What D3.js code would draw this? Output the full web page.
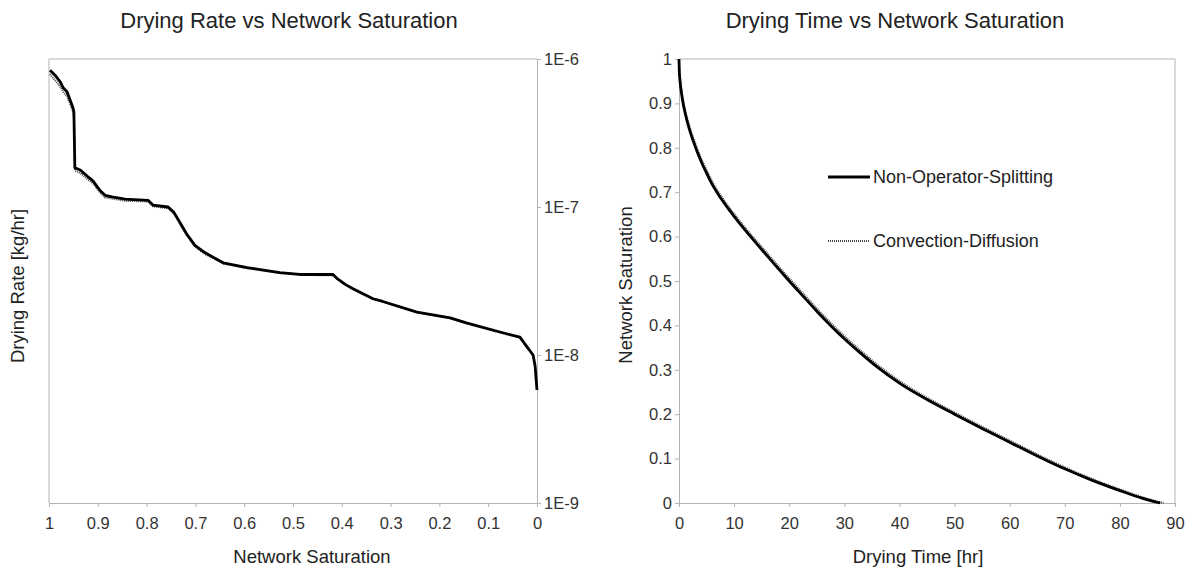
<!DOCTYPE html>
<html>
<head>
<meta charset="utf-8">
<script src="https://cdn.jsdelivr.net/npm/d3@7"></script>
<style>
  body { margin: 0; background: #fff; }
  svg text { font-family: "Liberation Sans", Arial, sans-serif; }
</style>
</head>
<body>
<div id="charts"></div>
<script>
// Drying rate / drying time vs network saturation, two panels
var width = 1190;
var height = 572;

// left panel: drying rate vs saturation (log y on the right side)
var rateSat = [0.998, 0.988, 0.977, 0.971, 0.963, 0.957, 0.951, 0.949, 0.947, 0.936, 0.922, 0.910, 0.896, 0.885, 0.871, 0.844, 0.797, 0.787, 0.756, 0.744, 0.732, 0.717, 0.701, 0.680, 0.643, 0.594, 0.527, 0.486, 0.418, 0.410, 0.393, 0.377, 0.336, 0.316, 0.246, 0.178, 0.143, 0.076, 0.035, 0.020, 0.008, 0.004, 0.0];
var rateNOS = [8.4e-7, 7.8e-7, 7.0e-7, 6.4e-7, 6.0e-7, 5.3e-7, 4.7e-7, 4.4e-7, 1.84e-7, 1.78e-7, 1.62e-7, 1.50e-7, 1.30e-7, 1.20e-7, 1.17e-7, 1.13e-7, 1.11e-7, 1.03e-7, 1.0e-7, 9.2e-8, 7.9e-8, 6.5e-8, 5.5e-8, 4.9e-8, 4.2e-8, 3.9e-8, 3.6e-8, 3.5e-8, 3.5e-8, 3.3e-8, 3.0e-8, 2.8e-8, 2.4e-8, 2.3e-8, 1.95e-8, 1.78e-8, 1.64e-8, 1.43e-8, 1.32e-8, 1.13e-8, 1.0e-8, 8.5e-9, 5.8e-9];
var rateCD = [7.9e-7, 7.2e-7, 6.5e-7, 6.0e-7, 5.6e-7, 5.0e-7, 4.4e-7, 4.1e-7, 1.76e-7, 1.70e-7, 1.55e-7, 1.45e-7, 1.26e-7, 1.16e-7, 1.14e-7, 1.10e-7, 1.09e-7, 1.01e-7, 9.8e-8, 9.0e-8, 7.7e-8, 6.4e-8, 5.4e-8, 4.8e-8, 4.15e-8, 3.85e-8, 3.58e-8, 3.48e-8, 3.45e-8, 3.28e-8, 2.98e-8, 2.78e-8, 2.39e-8, 2.29e-8, 1.94e-8, 1.77e-8, 1.63e-8, 1.42e-8, 1.31e-8, 1.12e-8, 9.9e-9, 8.4e-9, 5.8e-9];

// right panel: saturation vs drying time
var timeNOS = [0, 0.05, 0.15, 0.3, 0.5, 0.75, 1.1, 1.5, 2, 2.6, 3.3, 4.1, 5, 6, 7.5, 9, 11, 13, 15, 17.5, 20, 22.5, 25, 27.5, 30, 33, 36, 40, 45, 50, 55, 60, 65, 70, 75, 80, 84, 87.3];
var timeCD = [0, 0.07, 0.19, 0.36, 0.58, 0.85, 1.22, 1.65, 2.18, 2.8, 3.52, 4.35, 5.27, 6.3, 7.82, 9.33, 11.35, 13.37, 15.4, 17.92, 20.44, 22.96, 25.48, 28, 30.52, 33.54, 36.56, 40.58, 45.6, 50.6, 55.6, 60.6, 65.6, 70.6, 75.6, 80.6, 84.6, 87.9];
var satTime = [1, 0.974, 0.955, 0.937, 0.919, 0.9, 0.879, 0.859, 0.837, 0.815, 0.791, 0.767, 0.743, 0.718, 0.688, 0.662, 0.63, 0.6, 0.571, 0.535, 0.5, 0.466, 0.432, 0.4, 0.37, 0.337, 0.306, 0.27, 0.233, 0.2, 0.168, 0.137, 0.106, 0.077, 0.051, 0.028, 0.011, 0];

// tick values
var satTicks = [1, 0.9, 0.8, 0.7, 0.6, 0.5, 0.4, 0.3, 0.2, 0.1, 0];
var rateTicks = [1e-6, 1e-7, 1e-8, 1e-9];
var timeTicks = [0, 10, 20, 30, 40, 50, 60, 70, 80, 90];
var satTicksY = [0, 0.1, 0.2, 0.3, 0.4, 0.5, 0.6, 0.7, 0.8, 0.9, 1];

var seriesNames = ["Non-Operator-Splitting", "Convection-Diffusion"];

var gridColor = "#b3b3b3";
var textColor = "#333";
var titleColor = "#222";
var solidWidth = 2.8;

var svg = d3.select("#charts")
  .append("svg")
  .attr("width", width)
  .attr("height", height);

svg.append("rect")
  .attr("width", width)
  .attr("height", height)
  .attr("fill", "#fff");

function styleAxis(g) {
  g.selectAll("path").attr("stroke", gridColor);
  g.selectAll("line").attr("stroke", gridColor);
  g.selectAll("text")
    .attr("fill", textColor)
    .style("font-size", "16.5px");
}

function addText(x, y, size, label, rot) {
  var t = svg.append("text")
    .attr("text-anchor", "middle")
    .attr("fill", titleColor)
    .style("font-size", size + "px")
    .text(label);
  if (rot) {
    t.attr("transform", "translate(" + x + "," + y + ") rotate(-90)");
  } else {
    t.attr("x", x).attr("y", y);
  }
}

// ---------- left panel ----------
var top1 = 59, bottom1 = 503, left1 = 49, right1 = 537;

var xSat = d3.scaleLinear().domain([1, 0]).range([left1, right1]);
var yRate = d3.scaleLog().domain([1e-9, 1e-6]).range([bottom1, top1]);

// frame lines (top + left)
svg.append("line")
  .attr("x1", left1).attr("x2", right1)
  .attr("y1", top1).attr("y2", top1)
  .attr("stroke", gridColor);
svg.append("line")
  .attr("x1", left1).attr("x2", left1)
  .attr("y1", top1).attr("y2", bottom1)
  .attr("stroke", gridColor);

svg.append("g")
  .attr("transform", "translate(0," + bottom1 + ")")
  .call(d3.axisBottom(xSat).tickValues(satTicks).tickSize(4).tickSizeOuter(0).tickPadding(10)
    .tickFormat(function(d) { return +d.toFixed(1); }))
  .call(styleAxis);

svg.append("g")
  .attr("transform", "translate(" + right1 + ",0)")
  .call(d3.axisRight(yRate).tickValues(rateTicks).tickSize(4).tickSizeOuter(0).tickPadding(3)
    .tickFormat(function(d) { return "1E" + Math.round(Math.log10(d)); }))
  .call(styleAxis);

var rateLine = d3.line()
  .x(function(d) { return xSat(d[0]); })
  .y(function(d) { return yRate(d[1]); });

svg.append("path")
  .datum(d3.zip(rateSat, rateCD))
  .attr("d", rateLine)
  .attr("fill", "none")
  .attr("stroke", "#444")
  .attr("stroke-width", 2)
  .attr("stroke-dasharray", "1,1");

svg.append("path")
  .datum(d3.zip(rateSat, rateNOS))
  .attr("d", rateLine)
  .attr("fill", "none")
  .attr("stroke", "#000")
  .attr("stroke-width", solidWidth)
  .attr("stroke-linejoin", "round");

addText(289, 28, 22, "Drying Rate vs Network Saturation");
addText(312, 563, 18.5, "Network Saturation");
addText(24, 286, 18.5, "Drying Rate [kg/hr]", true);

// ---------- right panel ----------
var top2 = 59, bottom2 = 503, left2 = 679, right2 = 1175;

var xTime = d3.scaleLinear().domain([0, 90]).range([left2, right2]);
var ySat = d3.scaleLinear().domain([0, 1]).range([bottom2, top2]);

svg.append("line")
  .attr("x1", left2).attr("x2", right2)
  .attr("y1", top2).attr("y2", top2)
  .attr("stroke", gridColor);
svg.append("line")
  .attr("x1", right2).attr("x2", right2)
  .attr("y1", top2).attr("y2", bottom2)
  .attr("stroke", gridColor);

svg.append("g")
  .attr("transform", "translate(0," + bottom2 + ")")
  .call(d3.axisBottom(xTime).tickValues(timeTicks).tickSize(4).tickSizeOuter(0).tickPadding(10))
  .call(styleAxis);

svg.append("g")
  .attr("transform", "translate(" + left2 + ",0)")
  .call(d3.axisLeft(ySat).tickValues(satTicksY).tickSize(4).tickSizeOuter(0).tickPadding(3)
    .tickFormat(function(d) { return +d.toFixed(1); }))
  .call(styleAxis);

var timeLine = d3.line()
  .x(function(d) { return xTime(d[0]); })
  .y(function(d) { return ySat(d[1]); })
  .curve(d3.curveMonotoneX);

svg.append("path")
  .datum(d3.zip(timeCD, satTime))
  .attr("d", timeLine)
  .attr("fill", "none")
  .attr("stroke", "#444")
  .attr("stroke-width", 2)
  .attr("stroke-dasharray", "1,1");

svg.append("path")
  .datum(d3.zip(timeNOS, satTime))
  .attr("d", timeLine)
  .attr("fill", "none")
  .attr("stroke", "#000")
  .attr("stroke-width", solidWidth);

addText(895, 28, 22, "Drying Time vs Network Saturation");
addText(918, 563, 18.5, "Drying Time [hr]");
addText(632, 285, 18.5, "Network Saturation", true);

// legend
var legendY = [177, 241];
var legend = svg.selectAll(".legend")
  .data(seriesNames)
  .enter()
  .append("g")
  .attr("class", "legend")
  .attr("transform", function(d, i) { return "translate(828," + legendY[i] + ")"; });

legend.append("line")
  .attr("x1", 0).attr("x2", 42)
  .attr("y1", 0).attr("y2", 0)
  .attr("stroke", function(d, i) { return i === 0 ? "#000" : "#444"; })
  .attr("stroke-width", function(d, i) { return i === 0 ? solidWidth : 2; })
  .attr("stroke-dasharray", function(d, i) { return i === 0 ? null : "1,1"; });

legend.append("text")
  .attr("x", 45)
  .attr("y", 0)
  .attr("dy", "0.35em")
  .attr("fill", titleColor)
  .style("font-size", "18px")
  .text(function(d) { return d; });
</script>
</body>
</html>
